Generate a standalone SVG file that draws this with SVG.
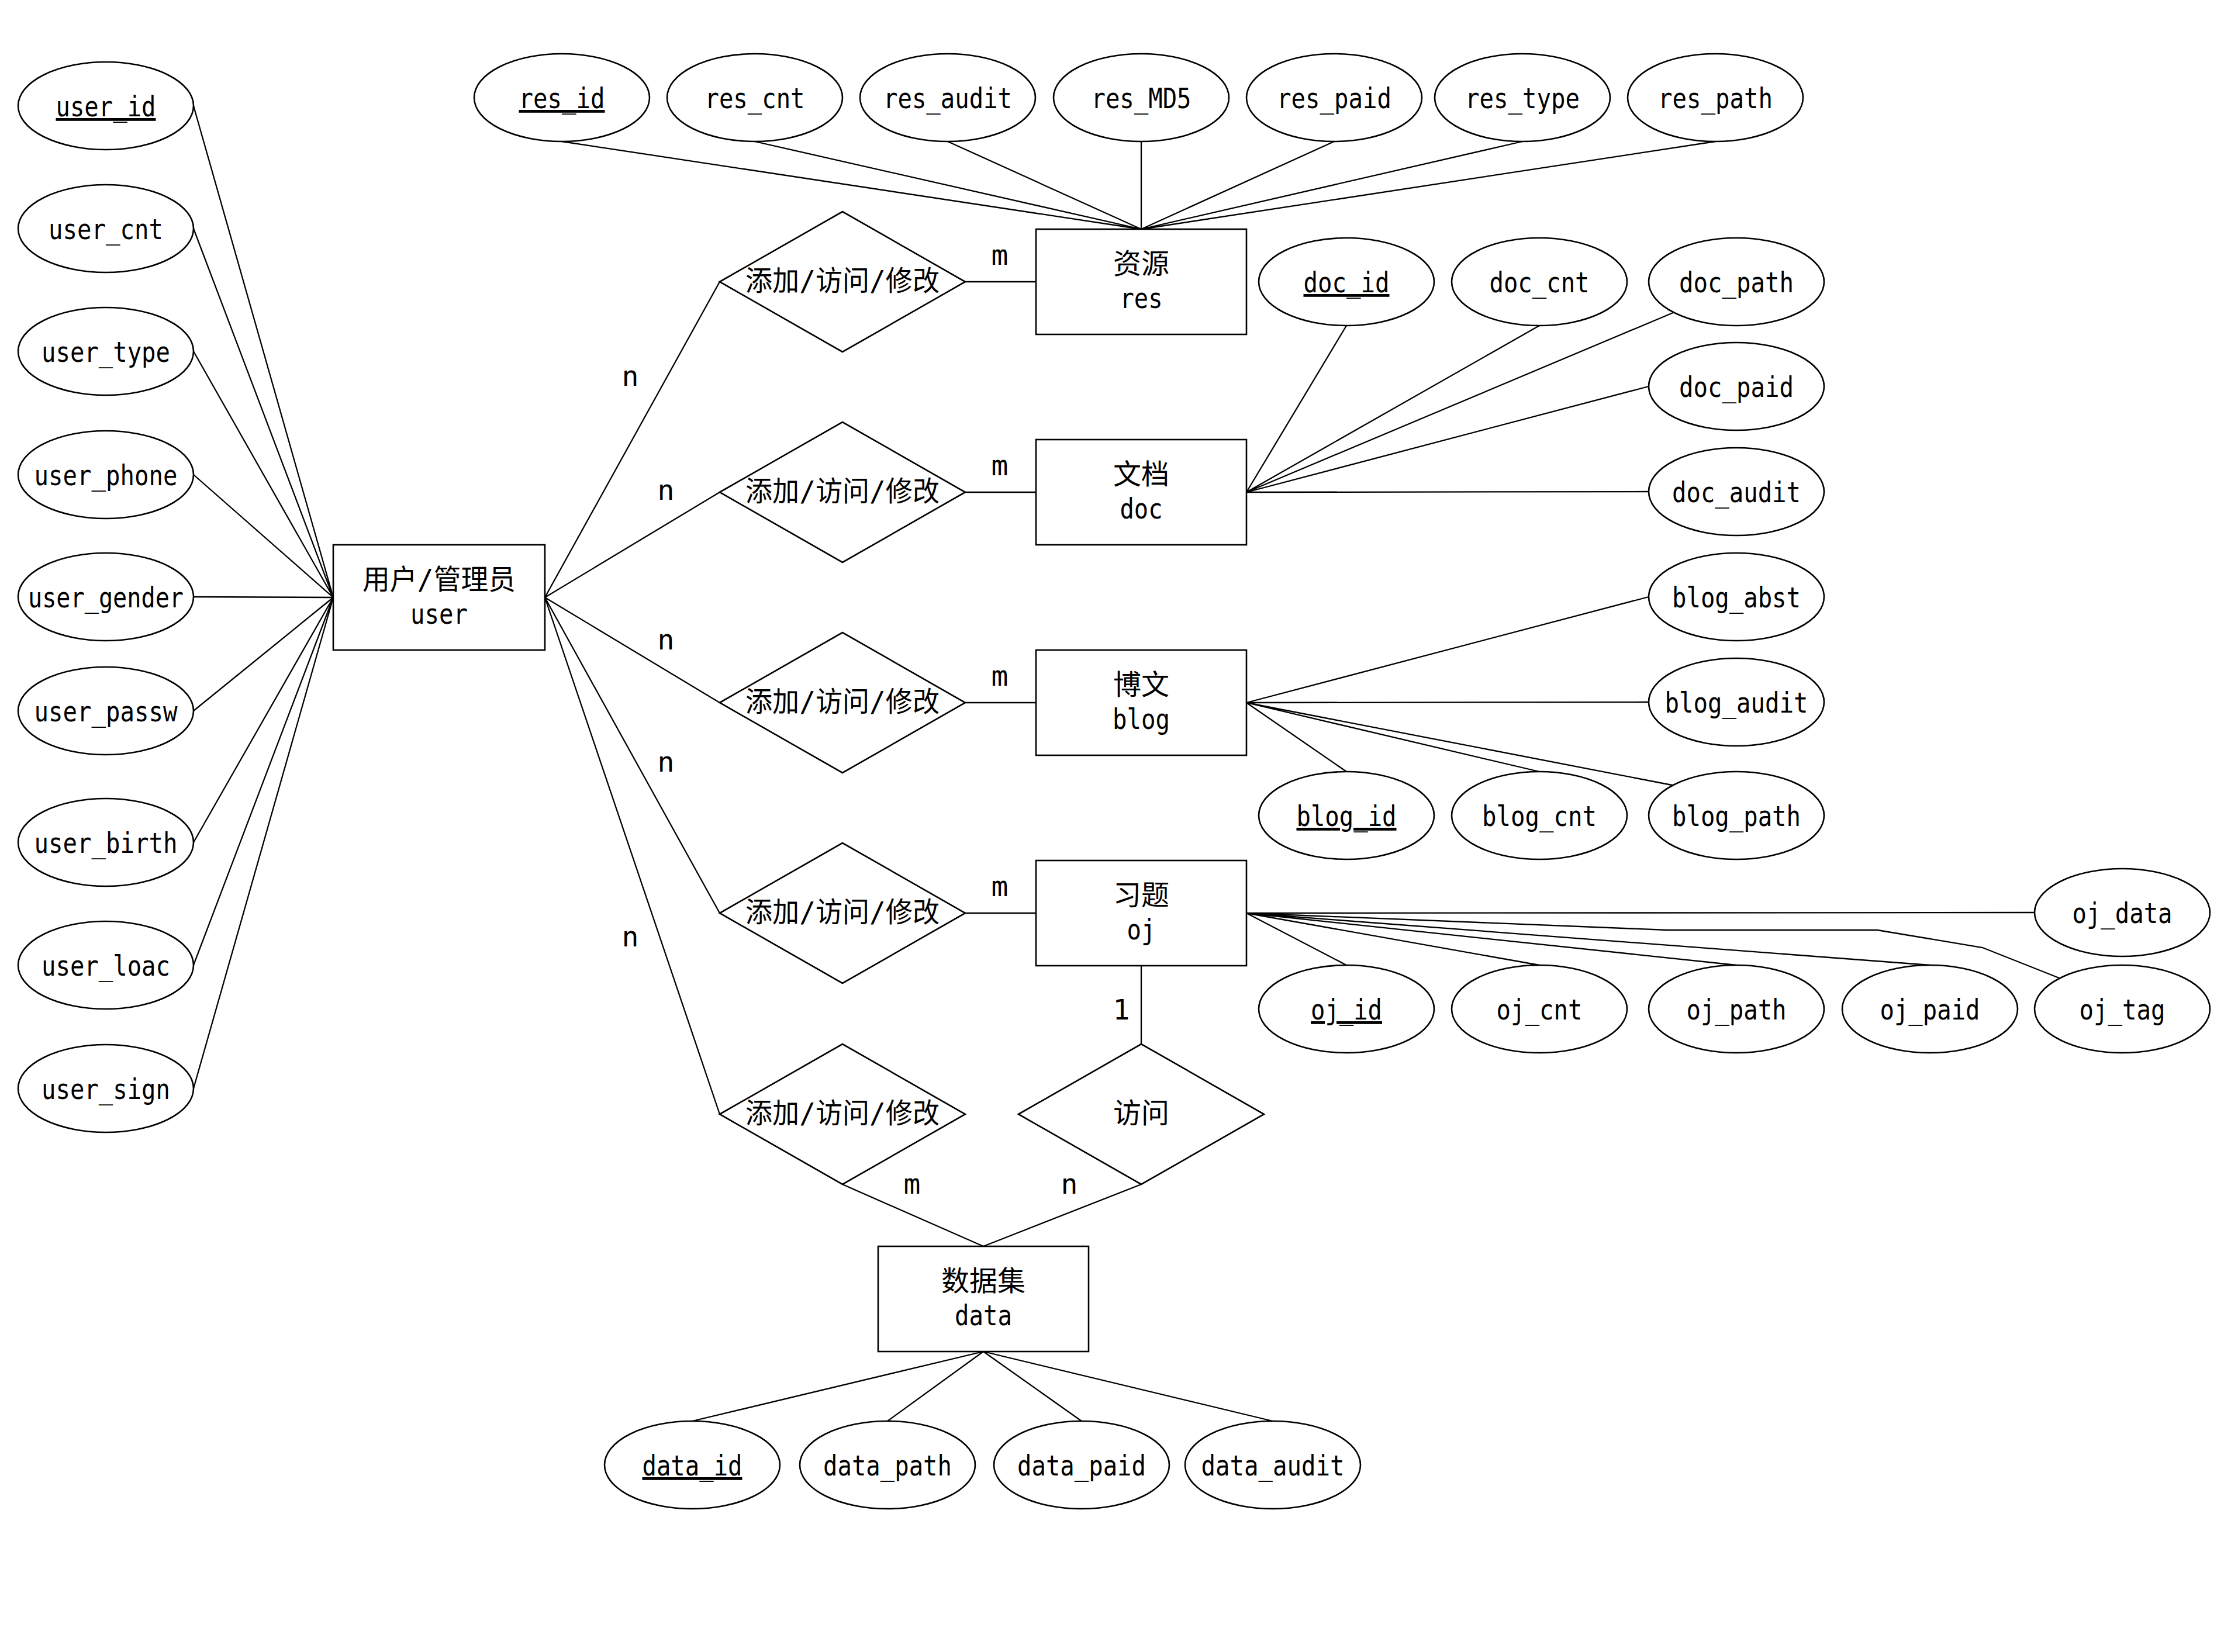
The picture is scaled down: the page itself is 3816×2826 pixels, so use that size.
<svg xmlns="http://www.w3.org/2000/svg" width="3816" height="2826" viewBox="0 0 3816 2826">
<style>
.shape{fill:#fff;stroke:#000;stroke-width:2.6}
.edge{fill:none;stroke:#000;stroke-width:2.3}
text{font-family:"DejaVu Sans Mono","Noto Sans CJK SC",monospace;font-size:48px;fill:#000;text-anchor:middle}
.u{text-decoration:underline}
</style>
<rect x="0" y="0" width="3816" height="2826" fill="#fff"/>
<g id="connectors">
<path class="edge" d="M331 181L570 1022M331 391L570 1022M331 601L570 1022M331 812L570 1022M331 1021L570 1022M331 1216L570 1022M331 1441L570 1022M331 1651L570 1022M331 1862L570 1022"/>
<path class="edge" d="M932 1022L1231 482M932 1022L1231 842M932 1022L1231 1202M932 1022L1231 1562M932 1022L1231 1906"/>
<path class="edge" d="M1651 482L1772 482M1651 842L1772 842M1651 1202L1772 1202M1651 1562L1772 1562"/>
<path class="edge" d="M1952 1652L1952 1786M1441 2026L1682 2132M1952 2026L1682 2132"/>
<path class="edge" d="M1952 392L961 242M1952 392L1291 242M1952 392L1621 242M1952 392L1952 242M1952 392L2282 242M1952 392L2604 242M1952 392L2934 242"/>
<path class="edge" d="M2132 842L2303 557M2132 842L2633 557M2132 842L2864 534M2132 842L2820 661M2132 842L2820 841"/>
<path class="edge" d="M2132 1202L2820 1021M2132 1202L2820 1201M2132 1202L2303 1320M2132 1202L2633 1320M2132 1202L2865 1344"/>
<path class="edge" d="M2132 1562L3480 1561M2132 1562L2303 1651M2132 1562L2633 1651M2132 1562L2970 1651M2132 1562L3301 1651M2132 1562L2852 1591L3211 1591L3391 1621L3522 1673"/>
<path class="edge" d="M1682 2312L1184 2431M1682 2312L1518 2431M1682 2312L1850 2431M1682 2312L2177 2431"/>
</g>
<g id="edge-labels">
<text x="1078" y="660">n</text>
<text x="1139" y="855">n</text>
<text x="1139" y="1111">n</text>
<text x="1139" y="1320">n</text>
<text x="1078" y="1619">n</text>
<text x="1710" y="453">m</text>
<text x="1710" y="813">m</text>
<text x="1710" y="1173">m</text>
<text x="1710" y="1533">m</text>
<text x="1918" y="1744">1</text>
<text x="1560" y="2042">m</text>
<text x="1829" y="2042">n</text>
</g>
<g id="user_id"><ellipse class="shape" cx="181" cy="181" rx="150" ry="75"/><text class="u" x="181" y="199" textLength="171" lengthAdjust="spacingAndGlyphs">user_id</text></g>
<g id="user_cnt"><ellipse class="shape" cx="181" cy="391" rx="150" ry="75"/><text x="181" y="409" textLength="196" lengthAdjust="spacingAndGlyphs">user_cnt</text></g>
<g id="user_type"><ellipse class="shape" cx="181" cy="601" rx="150" ry="75"/><text x="181" y="619" textLength="220" lengthAdjust="spacingAndGlyphs">user_type</text></g>
<g id="user_phone"><ellipse class="shape" cx="181" cy="812" rx="150" ry="75"/><text x="181" y="830" textLength="245" lengthAdjust="spacingAndGlyphs">user_phone</text></g>
<g id="user_gender"><ellipse class="shape" cx="181" cy="1021" rx="150" ry="75"/><text x="181" y="1039" textLength="266" lengthAdjust="spacingAndGlyphs">user_gender</text></g>
<g id="user_passw"><ellipse class="shape" cx="181" cy="1216" rx="150" ry="75"/><text x="181" y="1234" textLength="245" lengthAdjust="spacingAndGlyphs">user_passw</text></g>
<g id="user_birth"><ellipse class="shape" cx="181" cy="1441" rx="150" ry="75"/><text x="181" y="1459" textLength="245" lengthAdjust="spacingAndGlyphs">user_birth</text></g>
<g id="user_loac"><ellipse class="shape" cx="181" cy="1651" rx="150" ry="75"/><text x="181" y="1669" textLength="220" lengthAdjust="spacingAndGlyphs">user_loac</text></g>
<g id="user_sign"><ellipse class="shape" cx="181" cy="1862" rx="150" ry="75"/><text x="181" y="1880" textLength="220" lengthAdjust="spacingAndGlyphs">user_sign</text></g>
<g id="user"><rect class="shape" x="570" y="932" width="362" height="180"/><text x="751" y="1008" textLength="262" lengthAdjust="spacingAndGlyphs">用户/管理员</text><text x="751" y="1067" textLength="98" lengthAdjust="spacingAndGlyphs">user</text></g>
<g id="rel_res"><polygon class="shape" points="1231,482 1441,362 1651,482 1441,602"/><text x="1441" y="497" textLength="332" lengthAdjust="spacingAndGlyphs">添加/访问/修改</text></g>
<g id="rel_doc"><polygon class="shape" points="1231,842 1441,722 1651,842 1441,962"/><text x="1441" y="857" textLength="332" lengthAdjust="spacingAndGlyphs">添加/访问/修改</text></g>
<g id="rel_blog"><polygon class="shape" points="1231,1202 1441,1082 1651,1202 1441,1322"/><text x="1441" y="1217" textLength="332" lengthAdjust="spacingAndGlyphs">添加/访问/修改</text></g>
<g id="rel_oj"><polygon class="shape" points="1231,1562 1441,1442 1651,1562 1441,1682"/><text x="1441" y="1577" textLength="332" lengthAdjust="spacingAndGlyphs">添加/访问/修改</text></g>
<g id="rel_data"><polygon class="shape" points="1231,1906 1441,1786 1651,1906 1441,2026"/><text x="1441" y="1921" textLength="332" lengthAdjust="spacingAndGlyphs">添加/访问/修改</text></g>
<g id="rel_visit"><polygon class="shape" points="1742,1906 1952,1786 2162,1906 1952,2026"/><text x="1952" y="1921">访问</text></g>
<g id="res"><rect class="shape" x="1772" y="392" width="360" height="180"/><text x="1952" y="468">资源</text><text x="1952" y="527" textLength="73" lengthAdjust="spacingAndGlyphs">res</text></g>
<g id="doc"><rect class="shape" x="1772" y="752" width="360" height="180"/><text x="1952" y="828">文档</text><text x="1952" y="887" textLength="73" lengthAdjust="spacingAndGlyphs">doc</text></g>
<g id="blog"><rect class="shape" x="1772" y="1112" width="360" height="180"/><text x="1952" y="1188">博文</text><text x="1952" y="1247" textLength="98" lengthAdjust="spacingAndGlyphs">blog</text></g>
<g id="oj"><rect class="shape" x="1772" y="1472" width="360" height="180"/><text x="1952" y="1548">习题</text><text x="1952" y="1607" textLength="49" lengthAdjust="spacingAndGlyphs">oj</text></g>
<g id="data"><rect class="shape" x="1502" y="2132" width="360" height="180"/><text x="1682" y="2208">数据集</text><text x="1682" y="2267" textLength="98" lengthAdjust="spacingAndGlyphs">data</text></g>
<g id="res_id"><ellipse class="shape" cx="961" cy="167" rx="150" ry="75"/><text class="u" x="961" y="185" textLength="147" lengthAdjust="spacingAndGlyphs">res_id</text></g>
<g id="res_cnt"><ellipse class="shape" cx="1291" cy="167" rx="150" ry="75"/><text x="1291" y="185" textLength="171" lengthAdjust="spacingAndGlyphs">res_cnt</text></g>
<g id="res_audit"><ellipse class="shape" cx="1621" cy="167" rx="150" ry="75"/><text x="1621" y="185" textLength="220" lengthAdjust="spacingAndGlyphs">res_audit</text></g>
<g id="res_MD5"><ellipse class="shape" cx="1952" cy="167" rx="150" ry="75"/><text x="1952" y="185" textLength="171" lengthAdjust="spacingAndGlyphs">res_MD5</text></g>
<g id="res_paid"><ellipse class="shape" cx="2282" cy="167" rx="150" ry="75"/><text x="2282" y="185" textLength="196" lengthAdjust="spacingAndGlyphs">res_paid</text></g>
<g id="res_type"><ellipse class="shape" cx="2604" cy="167" rx="150" ry="75"/><text x="2604" y="185" textLength="196" lengthAdjust="spacingAndGlyphs">res_type</text></g>
<g id="res_path"><ellipse class="shape" cx="2934" cy="167" rx="150" ry="75"/><text x="2934" y="185" textLength="196" lengthAdjust="spacingAndGlyphs">res_path</text></g>
<g id="doc_id"><ellipse class="shape" cx="2303" cy="482" rx="150" ry="75"/><text class="u" x="2303" y="500" textLength="147" lengthAdjust="spacingAndGlyphs">doc_id</text></g>
<g id="doc_cnt"><ellipse class="shape" cx="2633" cy="482" rx="150" ry="75"/><text x="2633" y="500" textLength="171" lengthAdjust="spacingAndGlyphs">doc_cnt</text></g>
<g id="doc_path"><ellipse class="shape" cx="2970" cy="482" rx="150" ry="75"/><text x="2970" y="500" textLength="196" lengthAdjust="spacingAndGlyphs">doc_path</text></g>
<g id="doc_paid"><ellipse class="shape" cx="2970" cy="661" rx="150" ry="75"/><text x="2970" y="679" textLength="196" lengthAdjust="spacingAndGlyphs">doc_paid</text></g>
<g id="doc_audit"><ellipse class="shape" cx="2970" cy="841" rx="150" ry="75"/><text x="2970" y="859" textLength="220" lengthAdjust="spacingAndGlyphs">doc_audit</text></g>
<g id="blog_abst"><ellipse class="shape" cx="2970" cy="1021" rx="150" ry="75"/><text x="2970" y="1039" textLength="220" lengthAdjust="spacingAndGlyphs">blog_abst</text></g>
<g id="blog_audit"><ellipse class="shape" cx="2970" cy="1201" rx="150" ry="75"/><text x="2970" y="1219" textLength="245" lengthAdjust="spacingAndGlyphs">blog_audit</text></g>
<g id="blog_id"><ellipse class="shape" cx="2303" cy="1395" rx="150" ry="75"/><text class="u" x="2303" y="1413" textLength="171" lengthAdjust="spacingAndGlyphs">blog_id</text></g>
<g id="blog_cnt"><ellipse class="shape" cx="2633" cy="1395" rx="150" ry="75"/><text x="2633" y="1413" textLength="196" lengthAdjust="spacingAndGlyphs">blog_cnt</text></g>
<g id="blog_path"><ellipse class="shape" cx="2970" cy="1395" rx="150" ry="75"/><text x="2970" y="1413" textLength="220" lengthAdjust="spacingAndGlyphs">blog_path</text></g>
<g id="oj_data"><ellipse class="shape" cx="3630" cy="1561" rx="150" ry="75"/><text x="3630" y="1579" textLength="171" lengthAdjust="spacingAndGlyphs">oj_data</text></g>
<g id="oj_id"><ellipse class="shape" cx="2303" cy="1726" rx="150" ry="75"/><text class="u" x="2303" y="1744" textLength="122" lengthAdjust="spacingAndGlyphs">oj_id</text></g>
<g id="oj_cnt"><ellipse class="shape" cx="2633" cy="1726" rx="150" ry="75"/><text x="2633" y="1744" textLength="147" lengthAdjust="spacingAndGlyphs">oj_cnt</text></g>
<g id="oj_path"><ellipse class="shape" cx="2970" cy="1726" rx="150" ry="75"/><text x="2970" y="1744" textLength="171" lengthAdjust="spacingAndGlyphs">oj_path</text></g>
<g id="oj_paid"><ellipse class="shape" cx="3301" cy="1726" rx="150" ry="75"/><text x="3301" y="1744" textLength="171" lengthAdjust="spacingAndGlyphs">oj_paid</text></g>
<g id="oj_tag"><ellipse class="shape" cx="3630" cy="1726" rx="150" ry="75"/><text x="3630" y="1744" textLength="147" lengthAdjust="spacingAndGlyphs">oj_tag</text></g>
<g id="data_id"><ellipse class="shape" cx="1184" cy="2506" rx="150" ry="75"/><text class="u" x="1184" y="2524" textLength="171" lengthAdjust="spacingAndGlyphs">data_id</text></g>
<g id="data_path"><ellipse class="shape" cx="1518" cy="2506" rx="150" ry="75"/><text x="1518" y="2524" textLength="220" lengthAdjust="spacingAndGlyphs">data_path</text></g>
<g id="data_paid"><ellipse class="shape" cx="1850" cy="2506" rx="150" ry="75"/><text x="1850" y="2524" textLength="220" lengthAdjust="spacingAndGlyphs">data_paid</text></g>
<g id="data_audit"><ellipse class="shape" cx="2177" cy="2506" rx="150" ry="75"/><text x="2177" y="2524" textLength="245" lengthAdjust="spacingAndGlyphs">data_audit</text></g>
</svg>
